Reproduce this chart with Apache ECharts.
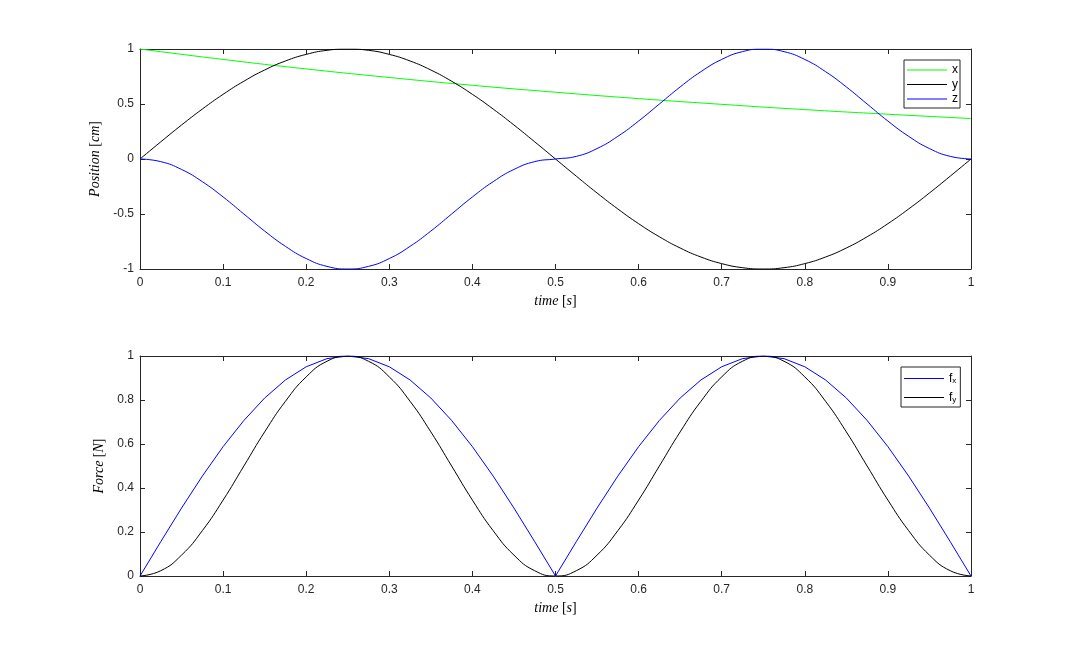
<!DOCTYPE html>
<html>
<head>
<meta charset="utf-8">
<script src="https://cdn.jsdelivr.net/npm/echarts@6/dist/echarts.min.js"></script>
<style>
  html, body { margin: 0; padding: 0; background: #fff; }
  #chart { width: 1074px; height: 648px; }
</style>
</head>
<body>
<div id="chart"></div>
<script>
// sample times
const timeFine = [0, 0.025, 0.05, 0.075, 0.1, 0.125, 0.15, 0.175, 0.2, 0.225, 0.25,
  0.275, 0.3, 0.325, 0.35, 0.375, 0.4, 0.425, 0.45, 0.475, 0.5,
  0.525, 0.55, 0.575, 0.6, 0.625, 0.65, 0.675, 0.7, 0.725, 0.75,
  0.775, 0.8, 0.825, 0.85, 0.875, 0.9, 0.925, 0.95, 0.975, 1]
const timeCoarse = [0, 0.1, 0.2, 0.3, 0.4, 0.5, 0.6, 0.7, 0.8, 0.9, 1]

// top panel: position
const posX = [1, 0.905, 0.819, 0.741, 0.670, 0.607, 0.549, 0.497, 0.449, 0.407, 0.368]
const posY = [0, 0.156, 0.309, 0.454, 0.588, 0.707, 0.809, 0.891, 0.951, 0.988, 1,
  0.988, 0.951, 0.891, 0.809, 0.707, 0.588, 0.454, 0.309, 0.156, 0,
  -0.156, -0.309, -0.454, -0.588, -0.707, -0.809, -0.891, -0.951, -0.988, -1,
  -0.988, -0.951, -0.891, -0.809, -0.707, -0.588, -0.454, -0.309, -0.156, 0]
const posZ = [0, -0.024, -0.095, -0.206, -0.345, -0.5, -0.655, -0.794, -0.905, -0.976, -1,
  -0.976, -0.905, -0.794, -0.655, -0.5, -0.345, -0.206, -0.095, -0.024, 0,
  0.024, 0.095, 0.206, 0.345, 0.5, 0.655, 0.794, 0.905, 0.976, 1,
  0.976, 0.905, 0.794, 0.655, 0.5, 0.345, 0.206, 0.095, 0.024, 0]

// bottom panel: force
const forceX = [0, 0.156, 0.309, 0.454, 0.588, 0.707, 0.809, 0.891, 0.951, 0.988, 1,
  0.988, 0.951, 0.891, 0.809, 0.707, 0.588, 0.454, 0.309, 0.156, 0,
  0.156, 0.309, 0.454, 0.588, 0.707, 0.809, 0.891, 0.951, 0.988, 1,
  0.988, 0.951, 0.891, 0.809, 0.707, 0.588, 0.454, 0.309, 0.156, 0]
const forceY = [0, 0.024, 0.095, 0.206, 0.345, 0.5, 0.655, 0.794, 0.905, 0.976, 1,
  0.976, 0.905, 0.794, 0.655, 0.5, 0.345, 0.206, 0.095, 0.024, 0,
  0.024, 0.095, 0.206, 0.345, 0.5, 0.655, 0.794, 0.905, 0.976, 1,
  0.976, 0.905, 0.794, 0.655, 0.5, 0.345, 0.206, 0.095, 0.024, 0]

const axisColor = '#262626'
const tickFont = { color: axisColor, fontSize: 12, fontFamily: 'Liberation Sans' }

const zip = (xs, ys) => xs.map((x, i) => [x, ys[i]])

// latex-ish axis names: italic words, upright brackets
const nameRich = {
  i: { fontFamily: 'Liberation Serif', fontStyle: 'italic', fontSize: 14, color: '#000' },
}
const nameStyle = { fontFamily: 'Liberation Serif', fontSize: 14, color: '#000', rich: nameRich }

const axisLine = { show: true, onZero: false, lineStyle: { color: axisColor, width: 1 } }
const axisTick = { show: true, inside: true, length: 5, lineStyle: { color: axisColor } }
const fmt = (v) => String(+v.toFixed(1))

function xAxisPair(gridIndex) {
  const base = {
    type: 'value', gridIndex, min: 0, max: 1, interval: 0.1,
    splitLine: { show: false }, axisLine, axisTick,
  }
  return [
    {
      ...base, position: 'bottom',
      axisLabel: { ...tickFont, margin: 8, formatter: fmt },
      name: '{i|time} [{i|s}]', nameLocation: 'middle', nameGap: 25, nameTextStyle: nameStyle,
    },
    { ...base, position: 'top', axisLabel: { show: false } },
  ]
}

function yAxisPair(gridIndex, min, max, interval, name) {
  const base = {
    type: 'value', gridIndex, min, max, interval,
    splitLine: { show: false }, axisLine, axisTick,
  }
  return [
    {
      ...base, position: 'left',
      axisLabel: { ...tickFont, margin: 6, formatter: fmt },
      name, nameLocation: 'middle', nameGap: 32, nameTextStyle: nameStyle,
    },
    { ...base, position: 'right', axisLabel: { show: false } },
  ]
}

function lineSeries(name, data, color, xi, yi, smooth) {
  return {
    name, type: 'line', data, xAxisIndex: xi, yAxisIndex: yi,
    showSymbol: false, symbol: 'none', smooth, animation: false,
    lineStyle: { color, width: 1 }, itemStyle: { color },
  }
}

// legend entries drawn as thin coloured bars
const legendItem = (name, color) => ({ name, icon: 'rect', itemStyle: { color, borderWidth: 0 } })

const legendBase = {
  orient: 'vertical',
  itemWidth: 40, itemHeight: 1,
  backgroundColor: '#fff',
  borderColor: axisColor, borderWidth: 1, borderRadius: 0,
  selectedMode: false,
}

const option = {
  backgroundColor: '#fff',
  animation: false,
  grid: [
    { left: 140, right: 103, top: 49, height: 220, containLabel: false },
    { left: 140, right: 103, top: 356, height: 220, containLabel: false },
  ],
  legend: [
    {
      ...legendBase,
      data: [legendItem('x', '#00ff00'), legendItem('y', '#000000'), legendItem('z', '#0000ff')],
      left: 904, top: 60,
      padding: [4, 2, 3, 3], itemGap: 2.5,
      textStyle: { color: '#000', fontSize: 12, lineHeight: 12, fontFamily: 'Liberation Sans' },
    },
    {
      ...legendBase,
      data: [legendItem('fx', '#0000ff'), legendItem('fy', '#000000')],
      left: 901, top: 367,
      padding: [3, 4, 3, 3], itemGap: 4,
      formatter: (n) => n === 'fx' ? 'f{sub|x}' : 'f{sub|y}',
      textStyle: {
        color: '#000', fontSize: 12, lineHeight: 13, fontFamily: 'Liberation Sans',
        rich: { sub: { fontSize: 8, lineHeight: 13, verticalAlign: 'bottom', padding: [7, 0, 0, 0], fontFamily: 'Liberation Sans' } },
      },
    },
  ],
  xAxis: [...xAxisPair(0), ...xAxisPair(1)],
  yAxis: [
    ...yAxisPair(0, -1, 1, 0.5, '{i|Position} [{i|cm}]'),
    ...yAxisPair(1, 0, 1, 0.2, '{i|Force} [{i|N}]'),
  ],
  series: [
    lineSeries('x', zip(timeCoarse, posX), '#00ff00', 0, 0, true),
    lineSeries('y', zip(timeFine, posY), '#000000', 0, 0, true),
    lineSeries('z', zip(timeFine, posZ), '#0000ff', 0, 0, true),
    lineSeries('fx', zip(timeFine, forceX), '#0000ff', 2, 2, false),
    lineSeries('fy', zip(timeFine, forceY), '#000000', 2, 2, true),
  ],
}

const chart = echarts.init(document.getElementById('chart'))
chart.setOption(option)
</script>
</body>
</html>
